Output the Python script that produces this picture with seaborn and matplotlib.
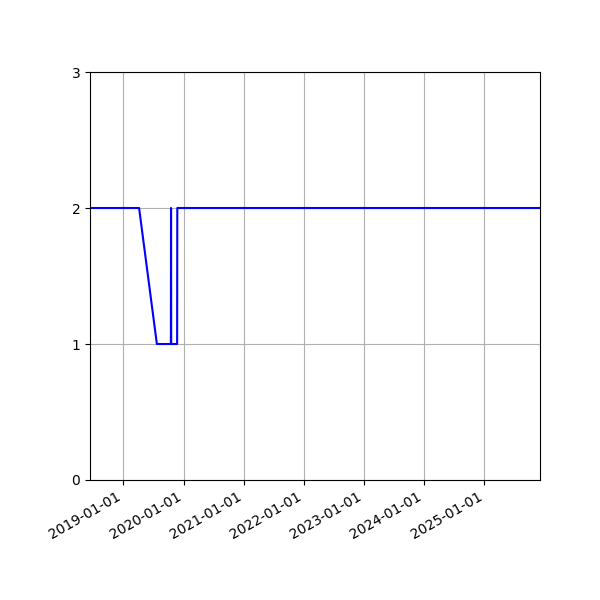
import matplotlib
matplotlib.use("Agg")
import matplotlib.pyplot as plt
import matplotlib.dates as mdates
import seaborn as sns
import pandas as pd

# breakpoints of the step series
dates = ["2018-06-12", "2019-04-06", "2019-07-23", "2019-10-16", "2019-10-17",
         "2019-10-18", "2019-11-23", "2019-11-24", "2025-12-04"]
values = [2, 2, 1, 1, 2, 1, 1, 2, 2]

df = pd.DataFrame({"date": pd.to_datetime(dates), "value": values})

fig, ax = plt.subplots(figsize=(6, 6), dpi=100)
sns.lineplot(data=df, x="date", y="value", color="b", linewidth=1.5,
             estimator=None, sort=False, ax=ax)

ax.set_xlim(df["date"].min(), df["date"].max())
ax.set_ylim(0, 3)
ax.set_yticks([0, 1, 2, 3])
ax.xaxis.set_major_locator(mdates.YearLocator())
ax.xaxis.set_major_formatter(mdates.DateFormatter("%Y-%m-%d"))
ax.set_xlabel("")
ax.set_ylabel("")
ax.grid(True)
fig.autofmt_xdate()
fig.subplots_adjust(left=0.15, right=0.9, top=0.88, bottom=0.2)

fig.savefig("out.png", dpi=100)
